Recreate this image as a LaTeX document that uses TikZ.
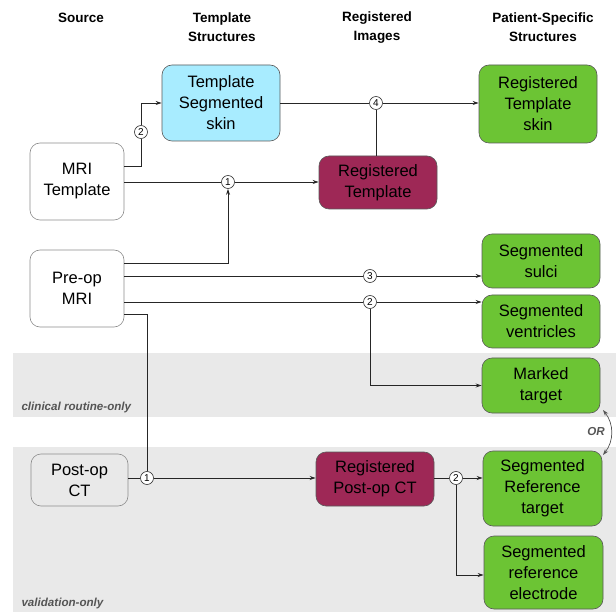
\documentclass[tikz,border=0pt]{standalone}
\usepackage{fontspec}
\setmainfont{Liberation Sans}
\usetikzlibrary{arrows.meta,calc}
\definecolor{bandgray}{HTML}{E9E9E9}
\definecolor{boxgreen}{HTML}{6CC434}
\definecolor{boxmaroon}{HTML}{9E2856}
\definecolor{boxcyan}{HTML}{A8ECFF}
\definecolor{labgray}{HTML}{555555}
\tikzset{
  box/.style={draw=black!65, line width=0.6pt, rounded corners=10pt, align=center,
    font=\fontsize{16.5}{21}\selectfont, inner sep=0pt},
  srcbox/.style={box, draw=black!45, fill=white},
  greenbox/.style={box, fill=boxgreen},
  maroonbox/.style={box, fill=boxmaroon},
  cyanbox/.style={box, fill=boxcyan},
  hdr/.style={align=center, font=\fontsize{13.5}{19}\bfseries\selectfont},
  bandlab/.style={anchor=west, text=labgray, font=\fontsize{11.6}{13}\bfseries\itshape\selectfont},
  circ/.style={circle, draw=black!80, line width=0.6pt, fill=white, inner sep=0pt, minimum size=13pt,
    font=\fontsize{10}{10}\selectfont},
  ln/.style={draw=black!85, line width=0.8pt},
  arr/.style={ln, -{Stealth[length=6pt,width=4pt]}},
}
\begin{document}
\begin{tikzpicture}[x=1pt,y=-1pt]
\useasboundingbox (0,0) rectangle (616,612);
% bands
\fill[bandgray] (13,353) rectangle (616,417);
\fill[bandgray] (13,447) rectangle (616,612);
\node[bandlab] (lclin) at (18,408) {clinical routine-only};
\node[bandlab] (lval) at (18,603) {validation-only};
% headers
\node[hdr] (h1) at (81,18) {Source};
\node[hdr] (h2) at (222,27.5) {Template\\Structures};
\node[hdr] (h3) at (377,27.5) {Registered\\Images};
\node[hdr] (h4) at (543,27.5) {Patient-Specific\\Structures};
% boxes
\node[srcbox, minimum width=94pt, minimum height=77pt] (mri) at (77,181.5) {MRI\\Template};
\node[srcbox, minimum width=94pt, minimum height=77pt] (preop) at (77,288.5) {Pre-op\\MRI};
\node[box, draw=black!45, minimum width=97pt, minimum height=52pt] (postop) at (79.5,480) {Post-op\\CT};
\node[cyanbox, minimum width=118pt, minimum height=76pt] (tss) at (221,103) {Template\\Segmented\\skin};
\node[maroonbox, minimum width=118pt, minimum height=53pt] (regt) at (378,182.5) {Registered\\Template};
\node[maroonbox, minimum width=118pt, minimum height=54pt] (regpost) at (375,479) {Registered\\Post-op CT};
\node[greenbox, minimum width=118pt, minimum height=78pt] (rts) at (538,104) {Registered\\Template\\skin};
\node[greenbox, minimum width=118pt, minimum height=54pt] (sulci) at (541,261) {Segmented\\sulci};
\node[greenbox, minimum width=118pt, minimum height=53pt] (vent) at (541,321.5) {Segmented\\ventricles};
\node[greenbox, minimum width=118pt, minimum height=55pt] (marked) at (541,385.5) {Marked\\target};
\node[greenbox, minimum width=119pt, minimum height=75pt] (srt) at (542.5,488.5) {Segmented\\Reference\\target};
\node[greenbox, minimum width=119pt, minimum height=73pt] (sre) at (543.5,572.5) {Segmented\\reference\\electrode};
% junction circles
\node[circ] (c2a) at (141,132) {2};
\node[circ] (c1a) at (228,182) {1};
\node[circ] (c4) at (376,103) {4};
\node[circ] (c3) at (370,276) {3};
\node[circ] (c2b) at (370,302) {2};
\node[circ] (c1b) at (147,478) {1};
\node[circ] (c2c) at (456,478) {2};
% connectors
\draw[ln] (mri.east |- 0,166) -| (c2a);
\draw[arr] (c2a) |- (tss.west);
\draw[ln] (mri.east |- c1a) -- (c1a);
\draw[arr] (c1a) -- (regt.west |- c1a);
\draw[arr] (preop.east |- 0,263) -| (c1a);
\draw[ln] (tss.east |- c4) -- (c4);
\draw[arr] (c4) -- (rts.west |- c4);
\draw[ln] (regt.north -| c4) -- (c4);
\draw[ln] (preop.east |- c3) -- (c3);
\draw[arr] (c3) -- (sulci.west |- c3);
\draw[ln] (preop.east |- c2b) -- (c2b);
\draw[arr] (c2b) -- (vent.west |- c2b);
\draw[arr] (c2b) |- (marked.west);
\draw[ln] (preop.east |- 0,314) -| (c1b);
\draw[ln] (postop.east |- c1b) -- (c1b);
\draw[arr] (c1b) -- (regpost.west |- c1b);
\draw[ln] (regpost.east |- c2c) -- (c2c);
\draw[arr] (c2c) -- (srt.west |- c2c);
\draw[arr] (c2c) |- (sre.west |- 0,575);
% OR
\coordinate (ora) at (603,410);
\coordinate (orb) at (603,455);
\draw[draw=labgray, line width=0.7pt, {Stealth[length=6pt,width=4pt]}-{Stealth[length=6pt,width=4pt]}]
  (ora) .. controls (614,424) and (614,441) .. (orb);
\node[text=labgray, font=\fontsize{11.6}{13}\bfseries\itshape\selectfont] (orl) at (596,432) {OR};
\end{tikzpicture}
\end{document}
